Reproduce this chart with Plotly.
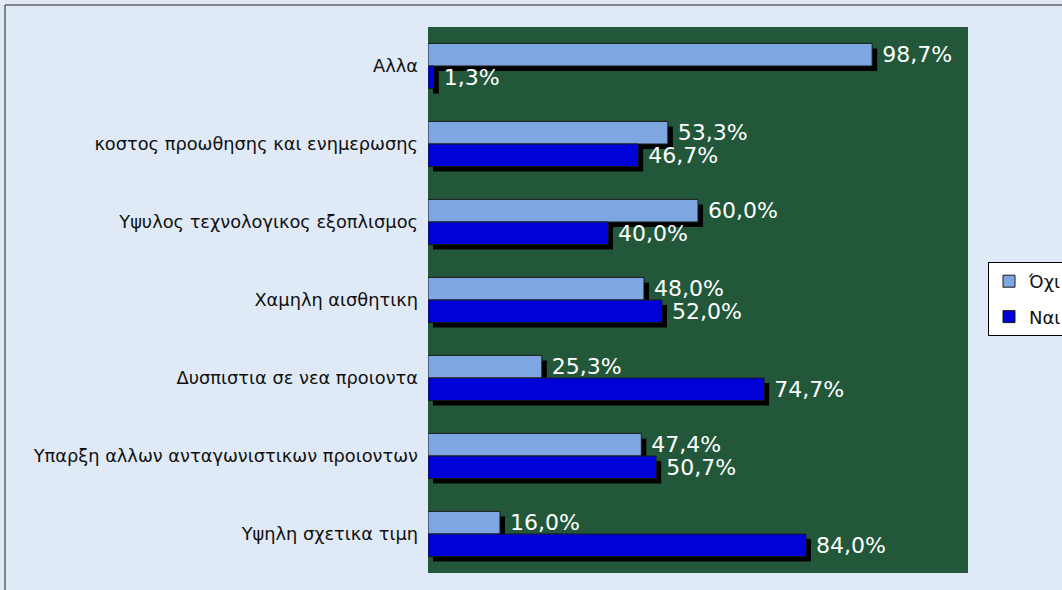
import plotly.graph_objects as go

categories = [
    "Αλλα",
    "κοστος προωθησης και ενημερωσης",
    "Υψυλος τεχνολογικος εξοπλισμος",
    "Χαμηλη αισθητικη",
    "Δυσπιστια σε νεα προιοντα",
    "Υπαρξη αλλων ανταγωνιστικων προιοντων",
    "Υψηλη σχετικα τιμη",
]
ochi = [98.7, 53.3, 60.0, 48.0, 25.3, 47.4, 16.0]
nai = [1.3, 46.7, 40.0, 52.0, 74.7, 50.7, 84.0]
series_names = ["Όχι", "Ναι"]

W, H = 1062, 590
SH = 5  # shadow offset in px
L, T = 428, 27
R, B = W - 968 - SH, H - 573 - SH
pw, ph = W - L - R, H - T - B
sx, sy = SH / pw, SH / ph
xmax = 120
FONT = "DejaVu Sans, Open Sans, sans-serif"

fig = go.Figure()

# shadows (subplot x/y, shifted right and down)
for vals in (ochi, nai):
    fig.add_trace(go.Bar(
        y=categories, x=vals, orientation="h", xaxis="x", yaxis="y",
        marker=dict(color="#000000", line=dict(width=0)),
        showlegend=False, hoverinfo="skip", cliponaxis=False,
    ))

fig.add_trace(go.Bar(
    y=categories, x=ochi, orientation="h", name=series_names[0],
    xaxis="x2", yaxis="y2", legendgroup="a",
    marker=dict(color="#7ea6e0", line=dict(color="#1a1a1a", width=1)),
    texttemplate=" %{x:.1f}%", textposition="outside", constraintext="none",
    textfont=dict(color="white", size=22, family=FONT),
    cliponaxis=False, hoverinfo="skip",
))
fig.add_trace(go.Bar(
    y=categories, x=nai, orientation="h", name=series_names[1],
    xaxis="x2", yaxis="y2", legendgroup="b",
    marker=dict(color="#0000d8", line=dict(color="#1a1a1a", width=1)),
    texttemplate=" %{x:.1f}%", textposition="outside", constraintext="none",
    textfont=dict(color="white", size=22, family=FONT),
    cliponaxis=False, hoverinfo="skip",
))

axis_common = dict(showgrid=False, zeroline=False, showline=False, ticks="")
fig.update_layout(
    width=W, height=H,
    margin=dict(l=L, r=R, t=T, b=B),
    paper_bgcolor="#dfeaf6",
    plot_bgcolor="rgba(0,0,0,0)",
    separators=", ",
    barmode="group",
    bargap=0.42,
    bargroupgap=0,
    xaxis=dict(domain=[sx, 1], range=[0, xmax], showticklabels=False, **axis_common),
    yaxis=dict(domain=[0, 1 - sy], autorange="reversed", showticklabels=False,
               anchor="x", **axis_common),
    xaxis2=dict(domain=[0, 1 - sx], range=[0, xmax], showticklabels=False,
                anchor="y2", **axis_common),
    yaxis2=dict(domain=[sy, 1], autorange="reversed", anchor="x2",
                ticklabelstandoff=9,
                tickfont=dict(color="#111111", size=17.8, family=FONT),
                **axis_common),
    legend=dict(
        xref="container", yref="container",
        x=988 / W, y=1 - 262 / H, xanchor="left", yanchor="top",
        bgcolor="white", bordercolor="black", borderwidth=1,
        font=dict(size=18, color="#111111", family=FONT),
        traceorder="grouped", itemwidth=30, tracegroupgap=9,
    ),
    shapes=[
        dict(type="rect", xref="paper", yref="paper", x0=0, x1=1 - sx, y0=sy, y1=1,
             line=dict(width=0), fillcolor="#22573a", layer="below"),
        dict(type="rect", xref="paper", yref="paper",
             x0=(5 - L) / pw, x1=(W + 20 - L) / pw,
             y0=1 + (T - 5) / ph, y1=-(B + 20) / ph,
             line=dict(color="#222222", width=1), fillcolor="rgba(0,0,0,0)", layer="below"),
    ],
)

fig.write_html("out.html", config={"displayModeBar": False},
               post_script="document.body.style.margin='0';")
